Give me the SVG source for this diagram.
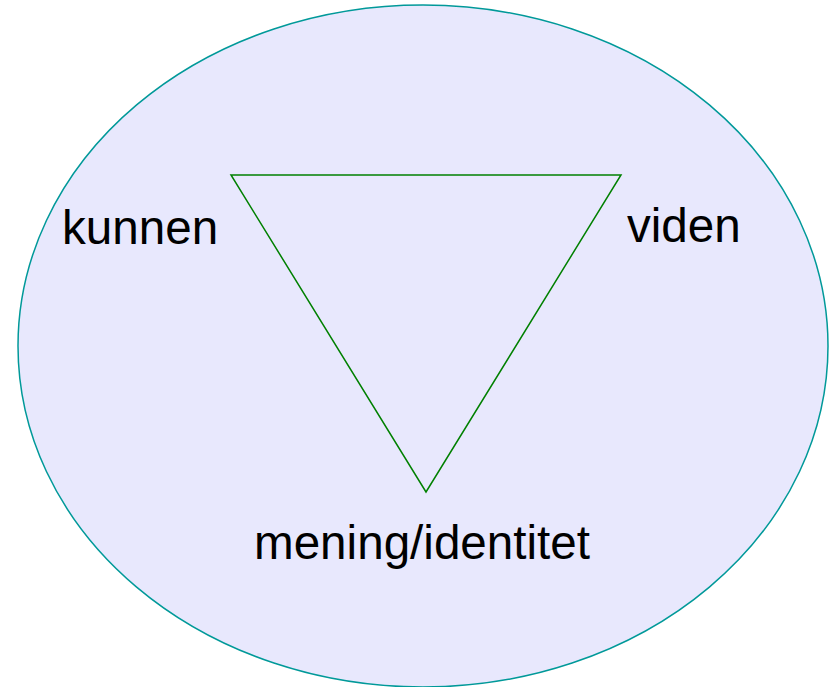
<svg xmlns="http://www.w3.org/2000/svg" width="830" height="687" viewBox="0 0 830 687">
<style>
.lbl{font-family:"Liberation Sans",Arial,sans-serif;font-size:47.6px;fill:#000}
</style>
<rect width="830" height="687" fill="#fff"/>
<g id="circle"><ellipse cx="423" cy="346" rx="405" ry="341" fill="#e8e8fd" stroke="#009999" stroke-width="1.5"/></g>
<g id="connectors"><polygon points="231,175 621,175 426,492" fill="none" stroke="#008000" stroke-width="1.5"/></g>
<g id="kunnen"><text class="lbl" x="62" y="244">kunnen</text></g>
<g id="viden"><text class="lbl" x="627" y="242">viden</text></g>
<g id="mening"><text class="lbl" x="254" y="559">mening/identitet</text></g>
</svg>
